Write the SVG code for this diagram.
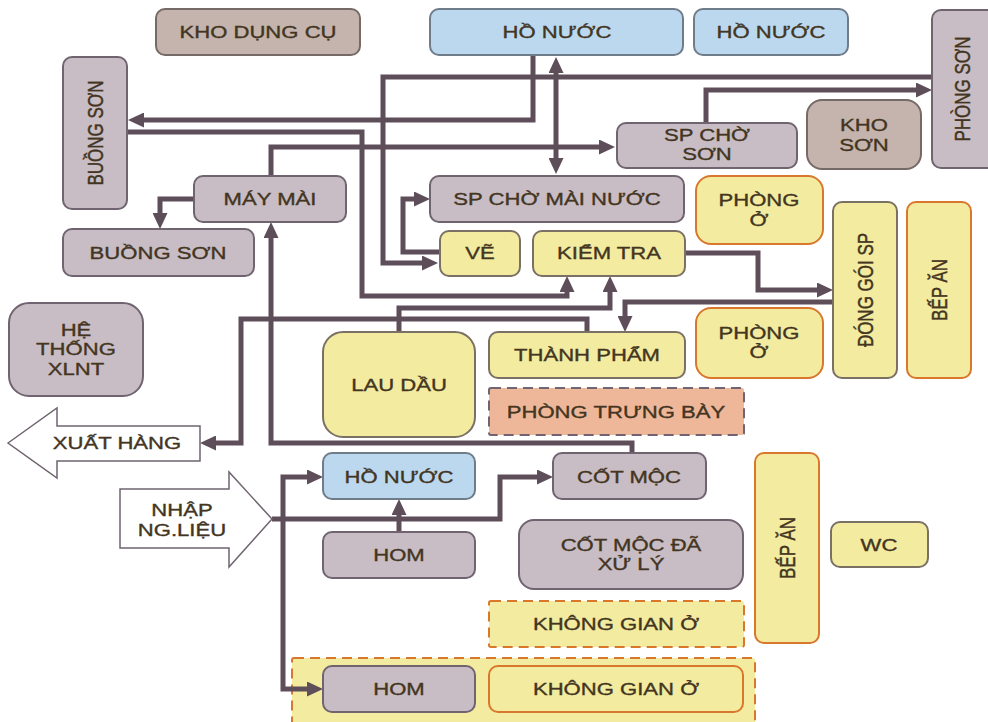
<svg xmlns="http://www.w3.org/2000/svg" width="988" height="722" viewBox="0 0 988 722">
<style>
.t{font-family:"Liberation Sans",Arial,sans-serif;font-size:17px;fill:#43351f;stroke:#43351f;stroke-width:0.35;text-anchor:middle}
.g{fill:#c9bdc5;stroke:#6f6470;stroke-width:2}
.k{fill:#c4b4ad;stroke:#766a66;stroke-width:2}
.b{fill:#bcd8ee;stroke:#6f7c8a;stroke-width:2}
.y{fill:#f3eba0;stroke:#7a7064;stroke-width:2}
.yo{fill:#f3eba0;stroke:#d9782c;stroke-width:2}
.yd{fill:#f3eba0;stroke:#d9782c;stroke-width:2;stroke-dasharray:10 6}
.pd{fill:#efb79a;stroke:#6f6470;stroke-width:2;stroke-dasharray:10 6}
.big{fill:#ffffff;stroke:#6f6470;stroke-width:1.5}
.c{fill:none;stroke:#5e4e5a;stroke-width:5;stroke-linejoin:miter}
.e{marker-end:url(#ah)}
.s{marker-start:url(#ah)}
</style>
<defs>
<marker id="ah" markerUnits="userSpaceOnUse" markerWidth="16" markerHeight="15" refX="6" refY="7.5" orient="auto-start-reverse">
<path d="M0,0 L16,7.5 L0,15 z" fill="#5e4e5a"/>
</marker>
</defs>
<rect width="988" height="722" fill="#ffffff"/>

<g id="khong-gian-container"><rect class="yd" x="292" y="658" width="463" height="70" rx="2"/></g>

<g id="connectors">
<path class="c e" d="M533,55 V120 H138"/>
<path class="c e" d="M932,77 H383 V263 H428"/>
<path class="c e s" d="M556,67 V164"/>
<path class="c e" d="M127,132 H362 V296 H567 V286"/>
<path class="c e" d="M271,176 V147 H605"/>
<path class="c e" d="M194,199 H160 V219"/>
<path class="c e" d="M632,453 V443 H271 V232"/>
<path class="c e" d="M706,123 V90 H922"/>
<path class="c e" d="M440,252 H403 V199 H420"/>
<path class="c e" d="M685,253 H758 V290 H823"/>
<path class="c e" d="M833,302 H625 V322"/>
<path class="c e" d="M399,332 V308 H610 V286"/>
<path class="c e" d="M587,332 V319 H241 V443 H210"/>
<path class="c e" d="M272,519 H500 V477 H543"/>
<path class="c e s" d="M313,477 H283 V689 H313"/>
<path class="c e" d="M399,532 V509"/>
</g>

<g id="kho-dung-cu"><rect class="k" x="156" y="9" width="204" height="46" rx="9"/><text class="t" transform="translate(258,32) scale(1.3,1)" y="6">KHO DỤNG CỤ</text></g>
<g id="ho-nuoc-1"><rect class="b" x="430" y="9" width="253" height="46" rx="9"/><text class="t" transform="translate(557,32) scale(1.3,1)" y="6">HỒ NƯỚC</text></g>
<g id="ho-nuoc-2"><rect class="b" x="694" y="9" width="154" height="46" rx="9"/><text class="t" transform="translate(771,32) scale(1.3,1)" y="6">HỒ NƯỚC</text></g>
<g id="phong-son"><rect class="g" x="932" y="10" width="66" height="158" rx="9"/><text class="t" transform="translate(962,89) scale(1.3,1) rotate(-90)" y="6">PHÒNG SƠN</text></g>
<g id="buong-son-1"><rect class="g" x="63" y="57" width="64" height="152" rx="9"/><text class="t" transform="translate(95,133) scale(1.3,1) rotate(-90)" y="6">BUỒNG SƠN</text></g>
<g id="may-mai"><rect class="g" x="194" y="176" width="152" height="46" rx="9"/><text class="t" transform="translate(270,199) scale(1.3,1)" y="6">MÁY MÀI</text></g>
<g id="buong-son-2"><rect class="g" x="63" y="229" width="191" height="47" rx="9"/><text class="t" transform="translate(158,253) scale(1.3,1)" y="6">BUỒNG SƠN</text></g>
<g id="sp-cho-son"><rect class="g" x="617" y="123" width="180" height="45" rx="9"/><text class="t" transform="translate(707,141) scale(1.3,1)"><tspan x="0" y="0">SP CHỜ</tspan><tspan x="0" y="19">SƠN</tspan></text></g>
<g id="kho-son"><rect class="k" x="807" y="100" width="114" height="69" rx="15"/><text class="t" transform="translate(864,131) scale(1.3,1)"><tspan x="0" y="0">KHO</tspan><tspan x="0" y="20">SƠN</tspan></text></g>
<g id="sp-cho-mai-nuoc"><rect class="g" x="430" y="176" width="254" height="46" rx="9"/><text class="t" transform="translate(557,199) scale(1.3,1)" y="6">SP CHỜ MÀI NƯỚC</text></g>
<g id="phong-o-1"><rect class="yo" x="696" y="176" width="127" height="68" rx="15"/><text class="t" transform="translate(759,206) scale(1.3,1)"><tspan x="0" y="0">PHÒNG</tspan><tspan x="0" y="20">Ở</tspan></text></g>
<g id="dong-goi-sp"><rect class="y" x="833" y="202" width="64" height="176" rx="9"/><text class="t" transform="translate(865,290) scale(1.3,1) rotate(-90)" y="6">ĐÓNG GÓI SP</text></g>
<g id="bep-an-1"><rect class="yo" x="907" y="202" width="64" height="176" rx="9"/><text class="t" transform="translate(939,290) scale(1.3,1) rotate(-90)" y="6">BẾP ĂN</text></g>
<g id="ve"><rect class="y" x="440" y="231" width="80" height="45" rx="9"/><text class="t" transform="translate(480,253) scale(1.3,1)" y="6">VẼ</text></g>
<g id="kiem-tra"><rect class="y" x="533" y="231" width="152" height="45" rx="9"/><text class="t" transform="translate(609,253) scale(1.3,1)" y="6">KIỂM TRA</text></g>
<g id="he-thong-xlnt"><rect class="g" x="9" y="303" width="134" height="93" rx="20"/><text class="t" transform="translate(76,336) scale(1.3,1)"><tspan x="0" y="0">HỆ</tspan><tspan x="0" y="19.5">THỐNG</tspan><tspan x="0" y="39">XLNT</tspan></text></g>
<g id="lau-dau"><rect class="y" x="323" y="332" width="152" height="105" rx="20"/><text class="t" transform="translate(399,385) scale(1.3,1)" y="6">LAU DẦU</text></g>
<g id="thanh-pham"><rect class="y" x="489" y="332" width="196" height="46" rx="9"/><text class="t" transform="translate(587,355) scale(1.3,1)" y="6">THÀNH PHẨM</text></g>
<g id="phong-o-2"><rect class="yo" x="696" y="308" width="127" height="70" rx="15"/><text class="t" transform="translate(759,339) scale(1.3,1)"><tspan x="0" y="0">PHÒNG</tspan><tspan x="0" y="19">Ở</tspan></text></g>
<g id="phong-trung-bay"><rect class="pd" x="489" y="388" width="255" height="47" rx="2"/><text class="t" transform="translate(616,412) scale(1.3,1)" y="6">PHÒNG TRƯNG BÀY</text></g>
<g id="xuat-hang"><polygon class="big" points="8,443 57,408 57,426 200,426 200,461 57,461 57,478"/><text class="t" transform="translate(117,443) scale(1.3,1)" y="6">XUẤT HÀNG</text></g>
<g id="nhap-ng-lieu"><polygon class="big" points="120,489 229,489 229,472 272,519 229,567 229,548 120,548"/><text class="t" transform="translate(182,516) scale(1.3,1)"><tspan x="0" y="0">NHẬP</tspan><tspan x="0" y="20">NG.LIỆU</tspan></text></g>
<g id="ho-nuoc-3"><rect class="b" x="323" y="453" width="152" height="46" rx="9"/><text class="t" transform="translate(399,477) scale(1.3,1)" y="6">HỒ NƯỚC</text></g>
<g id="cot-moc"><rect class="g" x="553" y="453" width="153" height="46" rx="9"/><text class="t" transform="translate(629,477) scale(1.3,1)" y="6">CỐT MỘC</text></g>
<g id="hom-1"><rect class="g" x="323" y="532" width="152" height="46" rx="9"/><text class="t" transform="translate(399,555) scale(1.3,1)" y="6">HOM</text></g>
<g id="cot-moc-da-xu-ly"><rect class="g" x="519" y="520" width="224" height="69" rx="15"/><text class="t" transform="translate(631,551) scale(1.3,1)"><tspan x="0" y="0">CỐT MỘC ĐÃ</tspan><tspan x="0" y="19.5">XỬ LÝ</tspan></text></g>
<g id="bep-an-2"><rect class="yo" x="755" y="453" width="64" height="190" rx="9"/><text class="t" transform="translate(787,548) scale(1.3,1) rotate(-90)" y="6">BẾP ĂN</text></g>
<g id="wc"><rect class="y" x="831" y="522" width="97" height="45" rx="9"/><text class="t" transform="translate(879,545) scale(1.3,1)" y="6">WC</text></g>
<g id="khong-gian-o-1"><rect class="yd" x="489" y="601" width="255" height="46" rx="2"/><text class="t" transform="translate(616,624) scale(1.3,1)" y="6">KHÔNG GIAN Ở</text></g>
<g id="hom-2"><rect class="g" x="323" y="666" width="152" height="46" rx="9"/><text class="t" transform="translate(399,689) scale(1.3,1)" y="6">HOM</text></g>
<g id="khong-gian-o-2"><rect class="yo" x="489" y="666" width="254" height="46" rx="9"/><text class="t" transform="translate(616,689) scale(1.3,1)" y="6">KHÔNG GIAN Ở</text></g>
</svg>
